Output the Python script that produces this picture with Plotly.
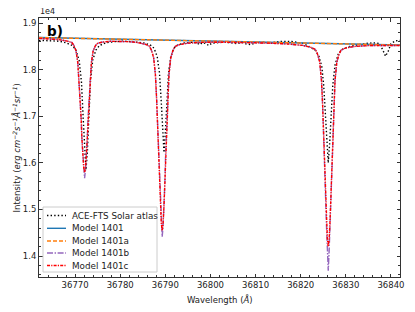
import plotly.graph_objects as go

# ---------------- data ----------------
wl_obs = [36762, 36763, 36764, 36765, 36766, 36767, 36767.9, 36769.4, 36770.2, 36770.9,
          36771.4, 36771.8, 36772.1, 36772.4, 36772.7, 36773.0, 36773.4, 36773.9, 36774.6,
          36775.4, 36776.9, 36779, 36781, 36782.7, 36785.2, 36786.7, 36787.5, 36788.2,
          36788.7, 36789.1, 36789.4, 36789.7, 36790.0, 36790.3, 36790.7, 36791.2, 36791.9,
          36792.7, 36794.2, 36796, 36797, 36797.6, 36798.2, 36799, 36799.6, 36800.3,
          36801.5, 36803, 36804.5, 36806, 36807, 36808, 36809, 36810, 36811.5, 36813,
          36814.5, 36816, 36818, 36819.3, 36820.5, 36821.8, 36823.3, 36824.1, 36824.7,
          36825.1, 36825.5, 36825.8, 36826.1, 36826.4, 36826.7, 36827.1, 36827.6, 36828.3,
          36829.1, 36830.6, 36833, 36835, 36836.5, 36837.5, 36838.2, 36838.8, 36839.4,
          36840, 36841, 36842]
int_obs = [18630, 18628, 18625, 18622, 18615, 18600, 18580, 18520, 18420, 18200,
           17750, 16950, 16200, 15850, 16200, 16950, 17750, 18200, 18420,
           18520, 18580, 18605, 18612, 18600, 18575, 18530, 18460, 18280,
           17930, 17300, 16650, 16220, 16650, 17300, 17930, 18280, 18460,
           18530, 18575, 18590, 18575, 18540, 18580, 18560, 18520, 18570,
           18585, 18590, 18580, 18560, 18585, 18550, 18540, 18580, 18590, 18575,
           18595, 18610, 18605, 18590, 18565, 18500, 18410, 18270, 18050,
           17650, 16950, 16400, 16000, 16400, 16950, 17650, 18100, 18330,
           18430, 18495, 18540, 18570, 18575, 18560, 18420, 18290, 18400,
           18560, 18620, 18630]

wl_cont = [36762, 36842]
int_1401 = [18690, 18530]
int_1401a = [18690, 18530]

wl_model = [36762, 36764, 36766.4, 36768.3, 36769.25, 36769.7, 36770.2, 36770.6, 36770.85, 36771.15,
            36771.35, 36771.5, 36771.7, 36771.9, 36772.1, 36772.3, 36772.5, 36772.7, 36772.85, 36773.05,
            36773.35, 36773.6, 36774.0, 36774.5, 36774.95, 36775.9, 36777.8, 36780, 36782,
            36783.6, 36785.5, 36786.45, 36786.9, 36787.4, 36787.8, 36788.05, 36788.35, 36788.55, 36788.7,
            36788.9, 36789.1, 36789.3, 36789.5, 36789.7, 36789.9, 36790.05, 36790.25, 36790.55, 36790.8,
            36791.2, 36791.7, 36792.15, 36793.1, 36795.0,
            36798, 36802, 36806, 36810, 36814, 36817,
            36820.4, 36822.3, 36823.25, 36823.7, 36824.2, 36824.6, 36824.85, 36825.15, 36825.35, 36825.5,
            36825.7, 36825.9, 36826.1, 36826.3, 36826.5, 36826.7, 36826.85, 36827.05, 36827.35, 36827.6,
            36828.0, 36828.5, 36828.95, 36829.9, 36831.8, 36835, 36838.5, 36842]
int_1401c = [18673, 18662, 18646, 18615, 18585, 18526, 18409, 18150, 17805, 17317,
             16943, 16541, 16168, 15909, 15794, 15908, 16166, 16539, 16940, 17313,
             17800, 18144, 18402, 18516, 18565, 18590, 18610, 18611, 18602,
             18587, 18547, 18506, 18424, 18261, 17892, 17402, 16707, 16175, 15603,
             15071, 14703, 14539, 14704, 15072, 15603, 16174, 16705, 17399, 17889,
             18256, 18418, 18499, 18538, 18571,
             18587, 18590, 18588, 18578, 18565, 18553,
             18522, 18479, 18434, 18345, 18170, 17777, 17253, 16511, 15943, 15332,
             14765, 14372, 14197, 14371, 14763, 15330, 15940, 16507, 17248, 17771,
             18162, 18336, 18422, 18464, 18499, 18518, 18520, 18519]
int_1401b = [18673, 18662, 18646, 18615, 18585, 18526, 18409, 18150, 17805, 17317,
             16938, 16531, 16143, 15847, 15670, 15846, 16141, 16529, 16935, 17313,
             17800, 18144, 18402, 18516, 18565, 18590, 18610, 18611, 18602,
             18587, 18547, 18506, 18424, 18261, 17892, 17402, 16707, 16170, 15593,
             15046, 14641, 14414, 14642, 15047, 15593, 16169, 16705, 17399, 17889,
             18256, 18418, 18499, 18538, 18571,
             18587, 18590, 18588, 18578, 18565, 18553,
             18522, 18479, 18434, 18345, 18170, 17777, 17253, 16501, 15923, 15291,
             14663, 14117, 13687, 14116, 14661, 15289, 15920, 16497, 17248, 17771,
             18162, 18336, 18422, 18464, 18499, 18518, 18520, 18519]

x_ticks = [36770, 36780, 36790, 36800, 36810, 36820, 36830, 36840]
x_ticktext = ["36770", "36780", "36790", "36800", "36810", "36820", "36830", "36840"]
y_ticks = [14000, 15000, 16000, 17000, 18000, 19000]
y_ticktext = ["1.4", "1.5", "1.6", "1.7", "1.8", "1.9"]

FONT = "DejaVu Sans"
OFF = 8                      # the page body adds an 8px margin
W, H = 415 - OFF, 312 - OFF
ML, MT = 39 - OFF, 18 - OFF  # plot area starts at page (39, 18)
PW, PH = 361, 259
MR, MB = W - ML - PW, H - MT - PH


def px(xp):  # page pixel -> paper x
    return (xp - OFF - ML) / PW


def py(yp):  # page pixel -> paper y
    return (MT + PH - (yp - OFF)) / PH


series = [
    ("ACE-FTS Solar atlas", wl_obs, int_obs, dict(color="black", width=1.4, dash="1.4px,2.2px")),
    ("Model 1401", wl_cont, int_1401, dict(color="#1f77b4", width=1.4)),
    ("Model 1401a", wl_cont, int_1401a, dict(color="#ff7f0e", width=1.4, dash="4px,2px")),
    ("Model 1401b", wl_model, int_1401b, dict(color="#9467bd", width=1.4, dash="6px,1.6px,1.4px,1.6px")),
    ("Model 1401c", wl_model, int_1401c, dict(color="red", width=1.4, dash="3px,1.2px,1.2px,1.2px")),
]

fig = go.Figure()
for name, xs, ys, ln in series:
    fig.add_trace(go.Scatter(x=xs, y=ys, mode="lines", name=name, line=ln, showlegend=False))

axis_common = dict(showline=True, linecolor="#333", linewidth=1, mirror="allticks",
                   ticks="inside", ticklen=3.5, tickwidth=0.8, tickcolor="#333",
                   showgrid=False, zeroline=False, automargin=False,
                   tickfont=dict(family=FONT, size=8.5, color="#222"))

fig.update_xaxes(range=[36762, 36842], tickvals=x_ticks, ticktext=x_ticktext,
                 minor=dict(ticks="inside", ticklen=2, dtick=2, tickcolor="#333", tickwidth=0.6),
                 **axis_common)
fig.update_yaxes(range=[13550, 19110], tickvals=y_ticks, ticktext=y_ticktext,
                 minor=dict(ticks="inside", ticklen=2, dtick=200, tickcolor="#333", tickwidth=0.6),
                 **axis_common)

# hand-built legend (matplotlib-like compact layout)
shapes = [dict(type="rect", xref="paper", yref="paper",
               x0=px(43), x1=px(157), y0=py(272), y1=py(207),
               line=dict(color="#cccccc", width=1), fillcolor="rgba(255,255,255,0.85)",
               layer="above")]
annotations = []
row_y = [215.5, 228.3, 241, 253, 265.5]
for (name, _, _, ln), ry in zip(series, row_y):
    shapes.append(dict(type="line", xref="paper", yref="paper",
                       x0=px(47), x1=px(66), y0=py(ry), y1=py(ry),
                       line=ln, layer="above"))
    annotations.append(dict(text=name, xref="paper", yref="paper", x=px(70), y=py(ry),
                            xanchor="left", yanchor="middle", showarrow=False,
                            font=dict(family=FONT, size=8.8, color="#222")))

annotations += [
    dict(text="<b>b)</b>", xref="paper", yref="paper", x=px(45), y=py(21),
         xanchor="left", yanchor="top", showarrow=False,
         font=dict(family=FONT, size=13.5, color="black")),
    dict(text="1e4", xref="paper", yref="paper", x=px(38), y=py(18),
         xanchor="left", yanchor="bottom", showarrow=False,
         font=dict(family=FONT, size=8, color="#222")),
    dict(text="Wavelength (<i>Å</i>)", xref="paper", yref="paper", x=0.5, y=py(299),
         xanchor="center", yanchor="middle", showarrow=False,
         font=dict(family=FONT, size=8.5, color="#222")),
    dict(text="Intensity (<i>erg cm<sup>−2</sup>s<sup>−1</sup>Å<sup>−1</sup>sr<sup>−1</sup></i>)",
         xref="paper", yref="paper", x=px(8.5), y=py(148), textangle=-90,
         xanchor="left", yanchor="middle", showarrow=False,
         font=dict(family=FONT, size=8.5, color="#222")),
]

fig.update_layout(
    width=W, height=H,
    margin=dict(l=ML, r=MR, t=MT, b=MB),
    plot_bgcolor="white", paper_bgcolor="white",
    font=dict(family=FONT, size=8.5, color="#222"),
    showlegend=False,
    shapes=shapes,
    annotations=annotations,
)

fig.write_html("out.html")
